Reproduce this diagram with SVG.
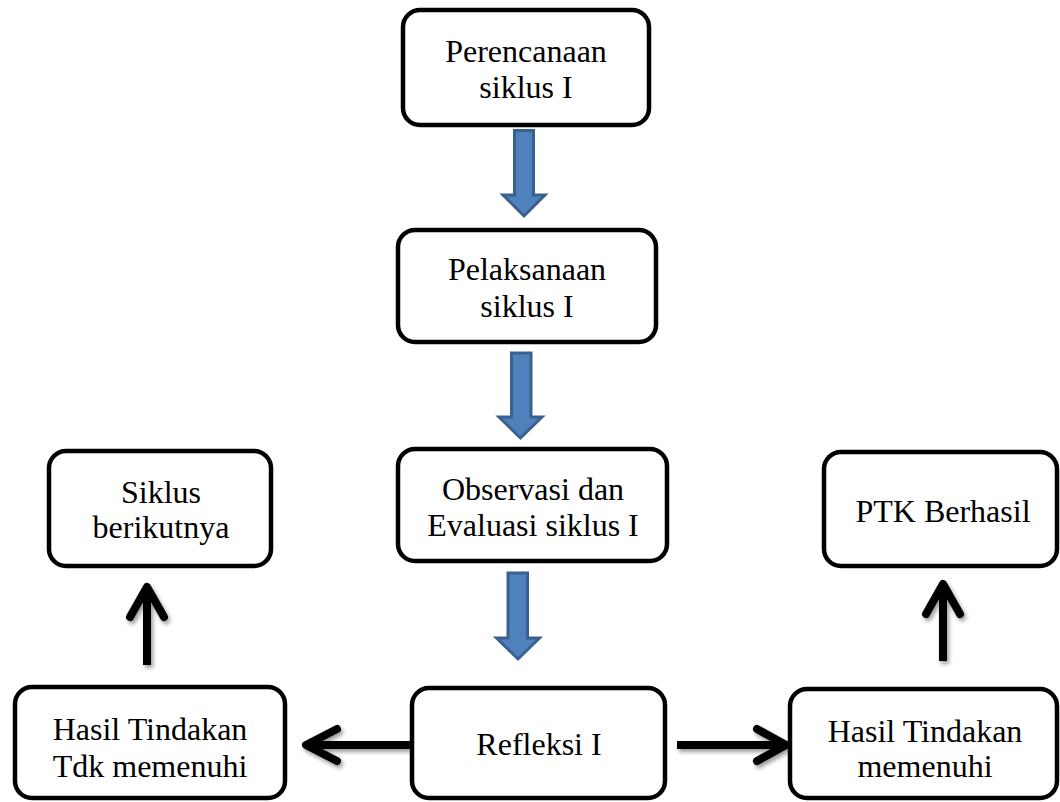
<svg xmlns="http://www.w3.org/2000/svg" width="1060" height="802" viewBox="0 0 1060 802">
<style>
.box{fill:#fff;stroke:#000;stroke-width:4.5}
.t{font-family:"Liberation Serif","Times New Roman",serif;font-size:32px;fill:#000;text-anchor:middle}
.blue{fill:#4F81BD;stroke:#3A6090;stroke-width:3;stroke-linejoin:miter}
.shaft{fill:none;stroke:#000;stroke-width:8;stroke-linecap:butt}
.head{fill:none;stroke:#000;stroke-width:8;stroke-linecap:round;stroke-linejoin:round}
</style>
<defs>
<filter id="sh" x="-30%" y="-30%" width="160%" height="160%">
<feGaussianBlur in="SourceAlpha" stdDeviation="2"/>
<feOffset dx="2" dy="3" result="b"/>
<feComponentTransfer><feFuncA type="linear" slope="0.4"/></feComponentTransfer>
<feMerge><feMergeNode/><feMergeNode in="SourceGraphic"/></feMerge>
</filter>
</defs>
<rect width="1060" height="802" fill="#fff"/>
<g id="connectors">
<polygon class="blue" points="514.5,130.5 533.5,130.5 533.5,195 545,195 524,216 503,195 514.5,195"/>
<polygon class="blue" points="511.5,353 531,353 531,417 542,417 520.5,438 499,417 511.5,417"/>
<polygon class="blue" points="508,573 527.5,573 527.5,638 539.5,638 518,659 496.5,638 508,638"/>
<g filter="url(#sh)">
<line class="shaft" x1="410" y1="745" x2="308" y2="745"/>
<polyline class="head" points="337,729 306,745 337,761"/>
<line class="shaft" x1="677" y1="745" x2="784" y2="745"/>
<polyline class="head" points="757,729 786,745 757,761"/>
<line class="shaft" x1="147" y1="665" x2="147" y2="589"/>
<polyline class="head" points="130,617 147,587 164,617"/>
<line class="shaft" x1="943" y1="661" x2="943" y2="586"/>
<polyline class="head" points="926,614 943,584 960,614"/>
</g>
</g>
<g id="perencanaan">
<rect class="box" x="403" y="10" width="246" height="115" rx="17"/>
<text class="t" x="526" y="62">Perencanaan</text>
<text class="t" x="526" y="98">siklus I</text>
</g>
<g id="pelaksanaan">
<rect class="box" x="398" y="230" width="258" height="112" rx="17"/>
<text class="t" x="527" y="280">Pelaksanaan</text>
<text class="t" x="527" y="317">siklus I</text>
</g>
<g id="observasi">
<rect class="box" x="398" y="449" width="269" height="112" rx="17"/>
<text class="t" x="533" y="500">Observasi dan</text>
<text class="t" x="533" y="536">Evaluasi siklus I</text>
</g>
<g id="siklus">
<rect class="box" x="49" y="451" width="222" height="115" rx="17"/>
<text class="t" x="161" y="503">Siklus</text>
<text class="t" x="161" y="538">berikutnya</text>
</g>
<g id="ptk">
<rect class="box" x="824" y="452" width="233" height="114" rx="17"/>
<text class="t" x="943" y="522">PTK Berhasil</text>
</g>
<g id="hasil-tdk">
<rect class="box" x="15" y="687" width="270" height="111" rx="17"/>
<text class="t" x="150" y="740">Hasil Tindakan</text>
<text class="t" x="150" y="777">Tdk memenuhi</text>
</g>
<g id="refleksi">
<rect class="box" x="412" y="688" width="253" height="110" rx="17"/>
<text class="t" x="539" y="755">Refleksi I</text>
</g>
<g id="hasil-memenuhi">
<rect class="box" x="790" y="689" width="267" height="109" rx="17"/>
<text class="t" x="925" y="742">Hasil Tindakan</text>
<text class="t" x="925" y="777">memenuhi</text>
</g>
</svg>
